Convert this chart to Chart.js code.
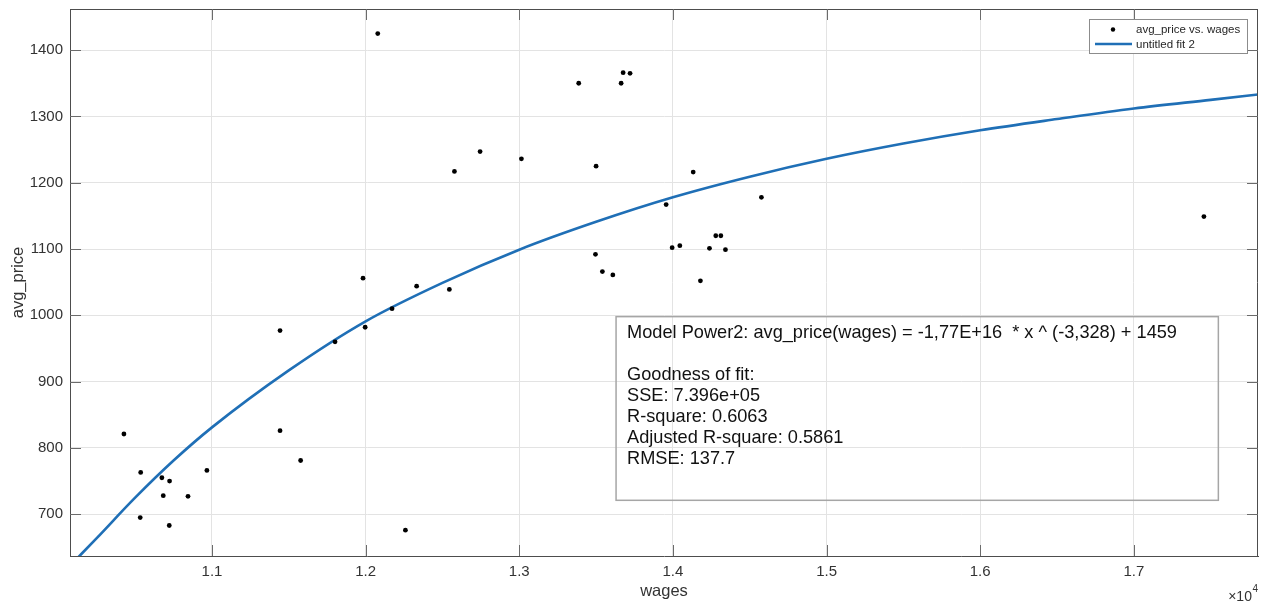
<!DOCTYPE html>
<html>
<head>
<meta charset="utf-8">
<title>avg_price vs. wages</title>
<script src="https://cdn.jsdelivr.net/npm/chart.js@4.4.1/dist/chart.umd.min.js"></script>
<style>
  html, body { margin: 0; padding: 0; background: #fff; }
  canvas { display: block; }
</style>
</head>
<body>
<canvas id="chart" width="1268" height="608"></canvas>
<script>
const wages = [10427, 10536, 10533, 10674, 10683, 10724, 10722, 10844, 10967,
    11443, 11443, 11577, 11801, 11983, 11997,
    12079, 12172, 12259, 12332, 12545, 12578, 12745,
    13014, 13387, 13496, 13500, 13541, 13609, 13663, 13676, 13721,
    13956, 13995, 14045, 14132, 14179, 14238, 14279, 14312, 14342, 14576,
    17456];
const avgPrice = [821, 763, 695, 755, 728, 750, 683, 727, 766,
    977, 826, 781, 960, 1056, 982,
    1425, 1010, 676, 1044, 1039, 1217, 1247,
    1236, 1350, 1092, 1225, 1066, 1061, 1350, 1366, 1365,
    1167, 1102, 1105, 1216, 1052, 1101, 1120, 1120, 1099, 1178,
    1149];

// fitted curve at these wages
const fitWages = [10100, 10250, 10500, 10750, 11000, 11500, 12000, 12500, 13000, 13500,
    14000, 14500, 15000, 15500, 16000, 16500, 17000, 17500, 17808];
const fitPrice = [628, 664, 725, 781, 831, 917, 991, 1049, 1099, 1141,
    1178, 1209, 1236, 1259, 1279, 1296, 1312, 1325, 1333];

const xTicks = [11000, 12000, 13000, 14000, 15000, 16000, 17000];
const yTicks = [700, 800, 900, 1000, 1100, 1200, 1300, 1400];

const statsLines = [
    'Model Power2: avg_price(wages) = -1,77E+16  * x ^ (-3,328) + 1459',
    '',
    'Goodness of fit:',
    'SSE: 7.396e+05',
    'R-square: 0.6063',
    'Adjusted R-square: 0.5861',
    'RMSE: 137.7'
];

const FONT = "'Liberation Sans', Arial, Helvetica, sans-serif";
const TEXT_COLOR = '#333333';

function toPoints(xs, ys) {
    return xs.map((x, i) => ({x: x, y: ys[i]}));
}

// frame, inward ticks, legend, stats box and the x10^4 exponent
const overlayPlugin = {
    id: 'overlay',
    afterDraw(chart, args, opts) {
        const {ctx, chartArea: area, scales} = chart;
        const xs = scales.x;
        const ys = scales.y;
        ctx.save();

        // top and right edges of the box
        ctx.strokeStyle = '#4d4d4d';
        ctx.lineWidth = 1;
        ctx.beginPath();
        ctx.moveTo(area.left, area.top + 0.5);
        ctx.lineTo(area.right, area.top + 0.5);
        ctx.moveTo(area.right - 0.5, area.top);
        ctx.lineTo(area.right - 0.5, area.bottom);
        ctx.stroke();

        // tick marks pointing inwards on all four sides
        ctx.strokeStyle = '#6b6b6b';
        ctx.beginPath();
        xTicks.forEach(v => {
            const px = Math.round(xs.getPixelForValue(v)) + 0.5;
            ctx.moveTo(px, area.bottom);
            ctx.lineTo(px, area.bottom - 11);
            ctx.moveTo(px, area.top);
            ctx.lineTo(px, area.top + 11);
        });
        yTicks.forEach(v => {
            const py = Math.round(ys.getPixelForValue(v)) + 0.5;
            ctx.moveTo(area.left, py);
            ctx.lineTo(area.left + 11, py);
            ctx.moveTo(area.right, py);
            ctx.lineTo(area.right - 11, py);
        });
        ctx.stroke();

        // legend in the top right corner
        const lg = opts.legend;
        const lx = area.right - lg.right - lg.width;
        const ly = area.top + lg.top;
        ctx.fillStyle = '#ffffff';
        ctx.fillRect(lx, ly, lg.width, lg.height);
        ctx.strokeStyle = '#8c8c8c';
        ctx.strokeRect(lx + 0.5, ly + 0.5, lg.width, lg.height);
        const ds = chart.data.datasets;
        ctx.font = '11.5px ' + FONT;
        ctx.textBaseline = 'middle';
        ctx.textAlign = 'left';
        ds.forEach((d, i) => {
            const rowY = ly + 10.5 + i * 14.5;
            if (d.type === 'line') {
                ctx.strokeStyle = d.borderColor;
                ctx.lineWidth = 2.5;
                ctx.beginPath();
                ctx.moveTo(lx + 6, rowY);
                ctx.lineTo(lx + 43, rowY);
                ctx.stroke();
            } else {
                ctx.fillStyle = d.backgroundColor;
                ctx.beginPath();
                ctx.arc(lx + 24, rowY, 2.2, 0, Math.PI * 2);
                ctx.fill();
            }
            ctx.fillStyle = '#262626';
            ctx.fillText(d.label, lx + 47, rowY + 0.5);
        });

        // goodness of fit box, anchored in data space
        const sb = opts.stats;
        const bx0 = xs.getPixelForValue(sb.x0);
        const bx1 = xs.getPixelForValue(sb.x1);
        const by0 = ys.getPixelForValue(sb.y0);
        const by1 = ys.getPixelForValue(sb.y1);
        ctx.strokeStyle = '#a6a6a6';
        ctx.lineWidth = 1.5;
        ctx.strokeRect(bx0, by0, bx1 - bx0, by1 - by0);
        ctx.fillStyle = '#111111';
        ctx.font = '18.2px ' + FONT;
        ctx.textBaseline = 'middle';
        statsLines.forEach((line, i) => {
            if (line) {
                ctx.fillText(line, bx0 + 11, by0 + 16 + i * 21);
            }
        });

        // axis multiplier under the right end of the x axis
        ctx.fillStyle = TEXT_COLOR;
        ctx.textAlign = 'right';
        ctx.textBaseline = 'alphabetic';
        ctx.font = '10px ' + FONT;
        ctx.fillText('4', area.right, 592);
        const supW = ctx.measureText('4').width;
        ctx.font = '14px ' + FONT;
        ctx.fillText('\u00d710', area.right - supW - 0.5, 601);

        ctx.restore();
    }
};

const ctx = document.getElementById('chart').getContext('2d');

new Chart(ctx, {
    type: 'scatter',
    data: {
        datasets: [
            {
                type: 'scatter',
                label: 'avg_price vs. wages',
                data: toPoints(wages, avgPrice),
                backgroundColor: '#000000',
                borderColor: '#000000',
                pointRadius: 2.4,
                pointBorderWidth: 0,
                order: 1
            },
            {
                type: 'line',
                label: 'untitled fit 2',
                data: toPoints(fitWages, fitPrice),
                borderColor: '#1f6fb6',
                borderWidth: 2.6,
                pointRadius: 0,
                fill: false,
                cubicInterpolationMode: 'monotone',
                order: 2
            }
        ]
    },
    options: {
        responsive: false,
        animation: false,
        events: [],
        layout: {
            padding: {left: 0, top: 9, right: 10, bottom: 0}
        },
        plugins: {
            legend: {display: false},
            tooltip: {enabled: false},
            overlay: {
                legend: {right: 11, top: 10, width: 158, height: 34},
                stats: {x0: 13630, x1: 17550, y0: 998, y1: 721}
            }
        },
        scales: {
            x: {
                type: 'linear',
                min: 10076,
                max: 17808,
                afterBuildTicks: scale => {
                    scale.ticks = xTicks.map(v => ({value: v}));
                },
                afterFit: scale => {
                    scale.height = 52;
                },
                grid: {color: '#e3e3e3', lineWidth: 1, drawTicks: false},
                border: {display: true, color: '#4d4d4d', width: 1},
                ticks: {
                    padding: 7,
                    color: TEXT_COLOR,
                    font: {family: FONT, size: 15},
                    maxRotation: 0,
                    callback: v => (v / 10000).toFixed(1)
                },
                title: {
                    display: true,
                    text: 'wages',
                    color: TEXT_COLOR,
                    font: {family: FONT, size: 16.5},
                    padding: {top: 0, bottom: 7}
                }
            },
            y: {
                type: 'linear',
                min: 637,
                max: 1462,
                afterBuildTicks: scale => {
                    scale.ticks = yTicks.map(v => ({value: v}));
                },
                afterFit: scale => {
                    scale.width = 70;
                    // labels sit well inside the range, no extra room needed
                    scale.paddingTop = 0;
                    scale.paddingBottom = 0;
                },
                grid: {color: '#e3e3e3', lineWidth: 1, drawTicks: false},
                border: {display: true, color: '#4d4d4d', width: 1},
                ticks: {
                    padding: 7,
                    color: TEXT_COLOR,
                    font: {family: FONT, size: 15},
                    callback: v => String(v)
                },
                title: {
                    display: true,
                    text: 'avg_price',
                    color: TEXT_COLOR,
                    font: {family: FONT, size: 16.5},
                    padding: {top: 9, bottom: 0}
                }
            }
        }
    },
    plugins: [overlayPlugin]
});
</script>
</body>
</html>
